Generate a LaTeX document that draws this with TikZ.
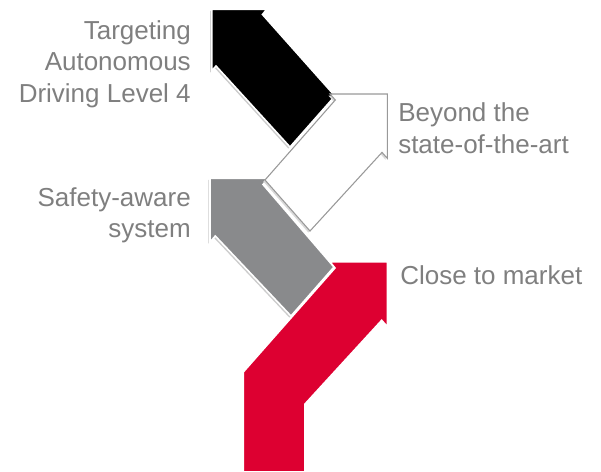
\documentclass[tikz,border=0pt]{standalone}
\usepackage{fontspec}
\setmainfont{Liberation Sans}
\usepackage{xcolor}
\usetikzlibrary{positioning,shadows}
\definecolor{txtgray}{RGB}{127,127,127}
\definecolor{stepgray}{RGB}{137,138,140}
\definecolor{stepred}{RGB}{221,0,49}

\begin{document}
\begin{tikzpicture}[x=0.75pt, y=-0.75pt]
\tikzstyle{txt}=[text=txtgray, inner sep=0pt, font=\fontsize{19.5}{23.6}\selectfont]
\tikzstyle{arrowpoly}=[draw=white, line width=1.2pt, drop shadow={shadow xshift=-1.2pt, shadow yshift=-1.2pt, fill=black!20, opacity=1}]
\useasboundingbox (0,0) rectangle (601,472);

\fill[black, arrowpoly] (211.7,9.3) -- (266.7,9.3) -- (262.5,14.5) -- (335,96) -- (290,147) -- (216,66) -- (211.7,71) -- cycle;
\fill[stepgray, arrowpoly] (210,178.3) -- (268.3,178.3) -- (263,184.5) -- (334,267) -- (291,316) -- (215.3,236) -- (210,242) -- cycle;
\filldraw[fill=white, draw=black!40, line width=0.8pt, drop shadow={shadow xshift=-1.2pt, shadow yshift=-1.2pt, fill=black!15, opacity=1}] (330,94) -- (387.3,94) -- (387.3,158.3) -- (382,152.4) -- (310,231) -- (265,180) -- (335.3,100) -- cycle;
\filldraw[fill=stepred, draw=white, line width=1.2pt] (243.3,472) -- (243.3,372) -- (335,268) -- (330,261.7) -- (387.3,261.7) -- (387.3,326.7) -- (381.7,320.3) -- (305,404) -- (305,472) -- cycle;

\node[txt, align=right, anchor=north east] (level) at (191,20) {Targeting\\Autonomous\\Driving Level 4};
\node[txt, align=left, anchor=north west] (beyond) at (398,102.5) {Beyond the\\state-of-the-art};
\node[txt, align=right, anchor=north east] (safety) at (191,187) {Safety-aware\\system};
\node[txt, anchor=north west] (market) at (400,265) {Close to market};
\end{tikzpicture}
\end{document}
